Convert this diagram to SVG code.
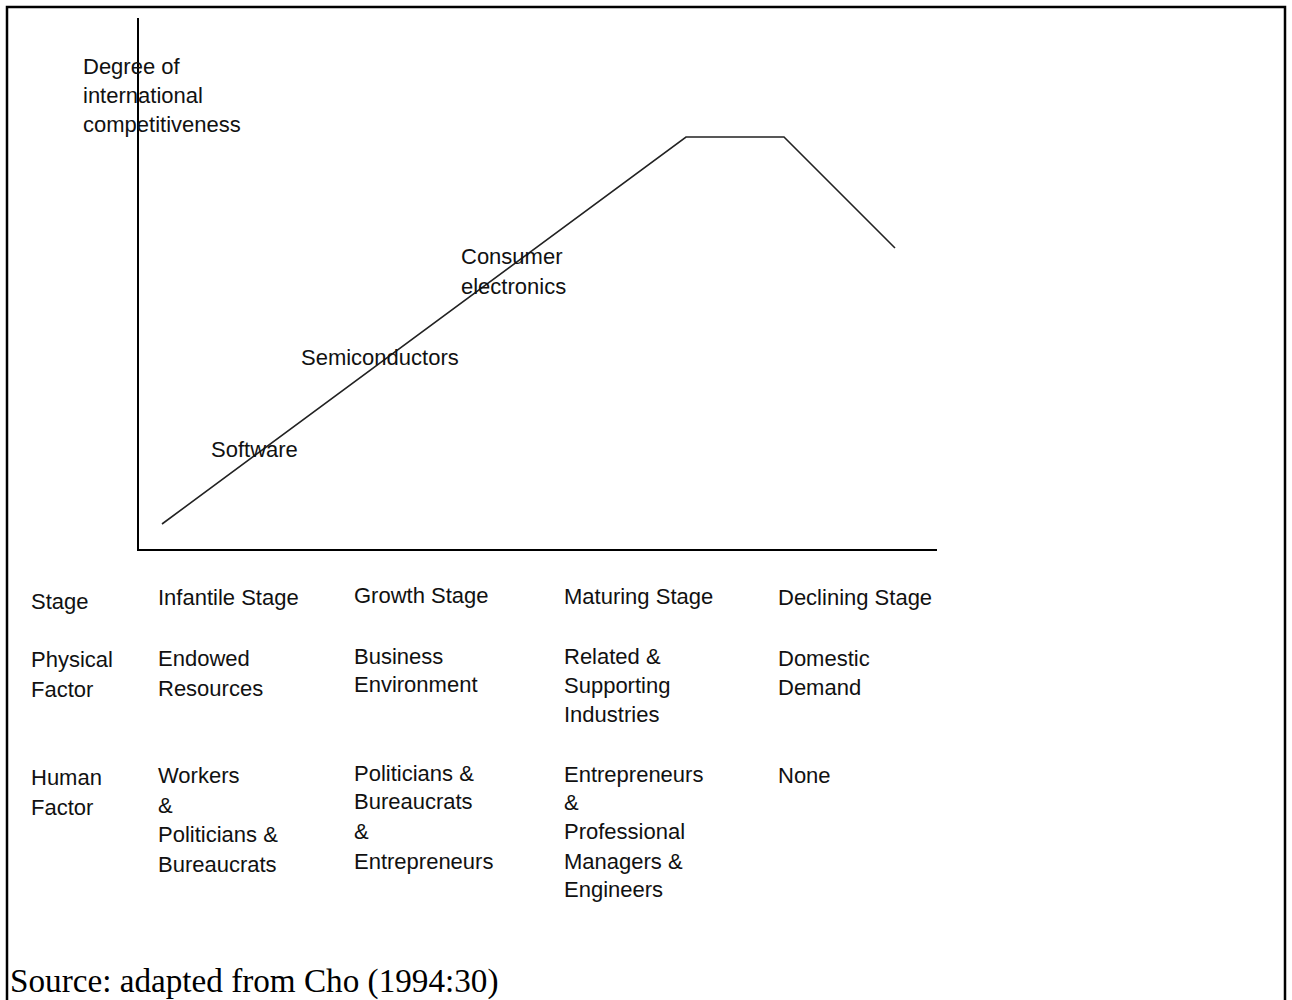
<svg xmlns="http://www.w3.org/2000/svg" width="1292" height="1000" viewBox="0 0 1292 1000">
  <style>
    .lbl { font-family: "Liberation Sans", Arial, sans-serif; font-size: 22px; fill: #111; }
    .src { font-family: "Liberation Serif", "Times New Roman", serif; font-size: 33.2px; fill: #000; }
    .axis { stroke: #000; stroke-width: 2; fill: none; }
    .curve { stroke: #222; stroke-width: 1.6; fill: none; stroke-linejoin: miter; }
  </style>
  <rect width="1292" height="1000" fill="#fff"/>
  <!-- frame -->
  <path d="M7,1002 V7 H1285 V1002" fill="none" stroke="#000" stroke-width="2.5"/>

  <!-- chart axes and competitiveness curve -->
  <g id="connectors">
    <path class="axis" d="M138,18 V550 H937"/>
    <polyline class="curve" points="162,524 686,137 784,137 895,248"/>
  </g>

  <g id="y-axis-label">
    <text class="lbl" x="83" y="74">Degree of</text>
    <text class="lbl" x="83" y="103">international</text>
    <text class="lbl" x="83" y="132">competitiveness</text>
  </g>

  <g id="industry-software"><text class="lbl" x="211" y="457">Software</text></g>
  <g id="industry-semiconductors"><text class="lbl" x="301" y="365">Semiconductors</text></g>
  <g id="industry-consumer-electronics">
    <text class="lbl" x="461" y="264">Consumer</text>
    <text class="lbl" x="461" y="294">electronics</text>
  </g>

  <!-- stage table -->
  <g id="row-headers">
    <text class="lbl" x="31" y="609">Stage</text>
    <text class="lbl" x="31" y="667">Physical</text>
    <text class="lbl" x="31" y="697">Factor</text>
    <text class="lbl" x="31" y="785">Human</text>
    <text class="lbl" x="31" y="815">Factor</text>
  </g>

  <g id="stage-infantile">
    <text class="lbl" x="158" y="605">Infantile Stage</text>
    <text class="lbl" x="158" y="666">Endowed</text>
    <text class="lbl" x="158" y="696">Resources</text>
    <text class="lbl" x="158" y="783">Workers</text>
    <text class="lbl" x="158" y="813">&amp;</text>
    <text class="lbl" x="158" y="842">Politicians &amp;</text>
    <text class="lbl" x="158" y="872">Bureaucrats</text>
  </g>

  <g id="stage-growth">
    <text class="lbl" x="354" y="603">Growth Stage</text>
    <text class="lbl" x="354" y="664">Business</text>
    <text class="lbl" x="354" y="692">Environment</text>
    <text class="lbl" x="354" y="781">Politicians &amp;</text>
    <text class="lbl" x="354" y="809">Bureaucrats</text>
    <text class="lbl" x="354" y="839">&amp;</text>
    <text class="lbl" x="354" y="869">Entrepreneurs</text>
  </g>

  <g id="stage-maturing">
    <text class="lbl" x="564" y="604">Maturing Stage</text>
    <text class="lbl" x="564" y="664">Related &amp;</text>
    <text class="lbl" x="564" y="693">Supporting</text>
    <text class="lbl" x="564" y="722">Industries</text>
    <text class="lbl" x="564" y="782">Entrepreneurs</text>
    <text class="lbl" x="564" y="810">&amp;</text>
    <text class="lbl" x="564" y="839">Professional</text>
    <text class="lbl" x="564" y="869">Managers &amp;</text>
    <text class="lbl" x="564" y="897">Engineers</text>
  </g>

  <g id="stage-declining">
    <text class="lbl" x="778" y="605">Declining Stage</text>
    <text class="lbl" x="778" y="666">Domestic</text>
    <text class="lbl" x="778" y="695">Demand</text>
    <text class="lbl" x="778" y="783">None</text>
  </g>

  <g id="source-note">
    <text class="src" x="10" y="992">Source: adapted from Cho (1994:30)</text>
  </g>
</svg>
